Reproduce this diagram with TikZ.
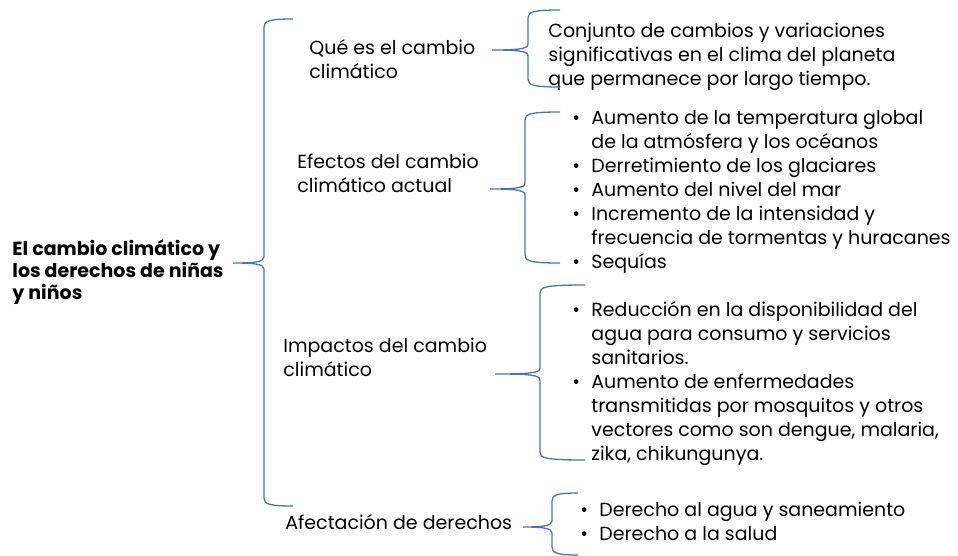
\documentclass[tikz,border=0pt]{standalone}
\usepackage{fontspec}
\setmainfont{Poppins}
\definecolor{braceblue}{HTML}{4472C4}
% bullet and hanging indent for the lists
\newcommand{\itm}{\makebox[9.5pt][l]{\textbullet}}
\newcommand{\cnt}{\hspace*{9.5pt}}
% curly brace: x of ends, y top, y bottom, x of spine, x of tip, y of tip
\newcommand{\curlybrace}[6]{%
  \draw[bracestyle] (#1,#2) .. controls (#4+5,#2) and (#4,#2+2) .. (#4,#2+8)
    -- (#4,#6-6) .. controls (#4,#6-1) and (#4-10,#6) .. (#5,#6)
    .. controls (#4-10,#6) and (#4,#6+1) .. (#4,#6+6)
    -- (#4,#3-8) .. controls (#4,#3-2) and (#4+5,#3) .. (#1,#3);}
\begin{document}
\begin{tikzpicture}[x=0.5pt, y=-0.5pt,
  bracestyle/.style={draw=braceblue, line width=0.65pt},
  lbl/.style={anchor=west, align=left, inner sep=0pt, font=\fontsize{9.5}{12}\selectfont},
  titlelbl/.style={lbl, font=\fontsize{9.5}{11}\selectfont\bfseries}]
  \useasboundingbox (0,0) rectangle (958,556);
  % left title
  \node[titlelbl] (title) at (12,272) {El cambio climático y\\los derechos de niñas\\y niños};
  % middle column
  \node[lbl] (whatis) at (309,59) {Qué es el cambio\\climático};
  \node[lbl] (effects) at (297,173) {Efectos del cambio\\climático actual};
  \node[lbl] (impacts) at (283,357) {Impactos del cambio\\climático};
  \node[lbl] (rights) at (285,522) {Afectación de derechos};
  % right column
  \node[lbl] (whatisdef) at (548,57) {Conjunto de cambios y variaciones\\significativas en el clima del planeta\\que permanece por largo tiempo.};
  \node[lbl] (effectslist) at (572,191.5) {\itm Aumento de la temperatura global\\\cnt de la atmósfera y los océanos\\\itm Derretimiento de los glaciares\\\itm Aumento del nivel del mar\\\itm Incremento de la intensidad y\\\cnt frecuencia de tormentas y huracanes\\\itm Sequías};
  \node[lbl] (impactslist) at (572,384) {\itm Reducción en la disponibilidad del\\\cnt agua para consumo y servicios\\\cnt sanitarios.\\\itm Aumento de enfermedades\\\cnt transmitidas por mosquitos y otros\\\cnt vectores como son dengue, malaria,\\\cnt zika, chikungunya.};
  \node[lbl] (rightslist) at (580,521) {\itm Derecho al agua y saneamiento\\\itm Derecho a la salud};
  % braces
  \curlybrace{293}{19}{506}{264}{233}{263}
  \curlybrace{560}{10}{87}{528}{492}{50}
  \curlybrace{560}{112}{263}{525}{490}{189}
  \curlybrace{585}{285}{460}{540}{495}{374}
  \curlybrace{578}{493}{555}{552}{523}{527}
\end{tikzpicture}
\end{document}
